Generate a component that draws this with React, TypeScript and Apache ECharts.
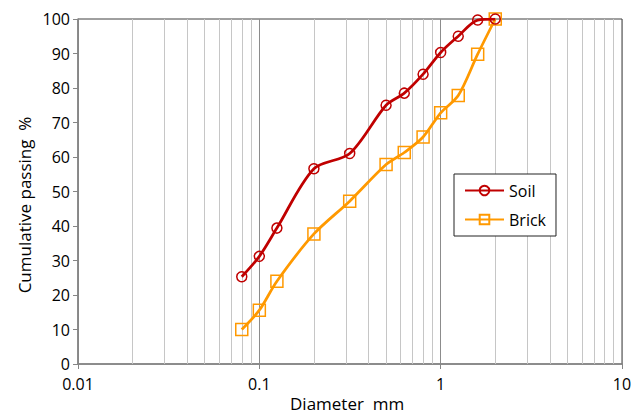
import React, { useEffect, useRef } from "react";
import * as echarts from "echarts";

const diameters = [0.08, 0.1, 0.125, 0.2, 0.315, 0.5, 0.63, 0.8, 1, 1.25, 1.6, 2];
const soilPassing = [25.3, 31.2, 39.4, 56.6, 61.0, 75.0, 78.5, 84.0, 90.3, 95.0, 99.7, 100];
const brickPassing = [10.0, 15.6, 24.0, 37.7, 47.2, 57.8, 61.3, 65.8, 72.8, 77.8, 89.8, 100];
const minorGridValues = [
  0.02, 0.03, 0.04, 0.05, 0.06, 0.07, 0.08, 0.09,
  0.2, 0.3, 0.4, 0.5, 0.6, 0.7, 0.8, 0.9,
  2, 3, 4, 5, 6, 7, 8, 9,
];
const xTitle = "Diameter  mm";
const yTitle = "Cumulative passing  %";

const FONT = "'Open Sans', 'Noto Sans', sans-serif";

export default function App() {
  const ref = useRef<HTMLDivElement>(null);
  useEffect(() => {
    if (!ref.current) return;
    const chart = echarts.init(ref.current, null, { renderer: "svg" });
    const soil = diameters.map((d, i) => [d, soilPassing[i]]);
    const brick = diameters.map((d, i) => [d, brickPassing[i]]);
    chart.setOption({
      animation: false,
      textStyle: { fontFamily: FONT },
      grid: {
        left: 78,
        right: 20,
        top: 19,
        bottom: 50,
        containLabel: false,
        outerBoundsMode: "none",
        show: true,
        borderColor: "#404040",
        borderWidth: 1,
        backgroundColor: "transparent",
      },
      legend: {
        orient: "vertical",
        left: 454,
        top: 174,
        padding: [6, 10, 6, 10],
        width: 100,
        borderColor: "#222",
        borderWidth: 1,
        backgroundColor: "#fff",
        itemWidth: 39,
        itemHeight: 12,
        itemGap: 8,
        textStyle: { fontFamily: FONT, fontSize: 16, color: "#000", lineHeight: 21 },
        data: ["Soil", "Brick"],
      },
      graphic: [
        {
          type: "text",
          left: 290,
          top: 395,
          silent: true,
          style: { text: xTitle, fontFamily: FONT, fontSize: 17, fill: "#000" },
        },
        {
          type: "text",
          x: 24,
          y: 205,
          rotation: Math.PI / 2,
          silent: true,
          style: {
            text: yTitle,
            fontFamily: FONT,
            fontSize: 17,
            fill: "#000",
            align: "center",
            verticalAlign: "middle",
          },
        },
      ],
      xAxis: {
        type: "log",
        logBase: 10,
        min: 0.01,
        max: 10,
        axisLine: { show: true, lineStyle: { color: "#868686", width: 1.5 } },
        axisTick: { show: true, inside: false, length: 5, lineStyle: { color: "#868686" } },
        axisLabel: {
          fontFamily: FONT,
          fontSize: 16,
          color: "#000",
          margin: 11,
          lineHeight: 18,
          formatter: (v: number) => String(Number(v.toPrecision(6))),
        },
        splitLine: { show: true, lineStyle: { color: "#8c8c8c", width: 1 } },
        minorTick: { show: false },
      },
      yAxis: {
        type: "value",
        min: 0,
        max: 100,
        interval: 10,
        axisLine: { show: true, lineStyle: { color: "#868686", width: 1.5 } },
        axisTick: { show: true, inside: false, length: 5, lineStyle: { color: "#868686" } },
        axisLabel: { fontFamily: FONT, fontSize: 16, color: "#000", margin: 8, lineHeight: 16 },
        splitLine: { show: false },
      },
      series: [
        {
          name: "Soil",
          type: "line",
          data: soil,
          smooth: 0.3,
          symbol: "circle",
          symbolSize: 10,
          showAllSymbol: true,
          z: 3,
          lineStyle: { color: "#C00000", width: 2.75 },
          itemStyle: { color: "#ffffff00", borderColor: "#C00000", borderWidth: 1.5 },
          markLine: {
            silent: true,
            z: 1,
            symbol: "none",
            label: { show: false },
            lineStyle: { color: "#c6c6c6", width: 1, type: "solid" },
            data: minorGridValues.map((v) => ({ xAxis: v })),
          },
        },
        {
          name: "Brick",
          type: "line",
          data: brick,
          smooth: 0.3,
          symbol: "rect",
          symbolSize: 12,
          showAllSymbol: true,
          z: 2,
          lineStyle: { color: "#FF9900", width: 2.75 },
          itemStyle: { color: "#ffffff00", borderColor: "#FF9900", borderWidth: 1.5 },
        },
      ],
    });
    return () => chart.dispose();
  }, []);
  return (
    <div
      ref={ref}
      style={{ position: "fixed", left: 0, top: 0, width: 642, height: 414, background: "#fff" }}
    />
  );
}
